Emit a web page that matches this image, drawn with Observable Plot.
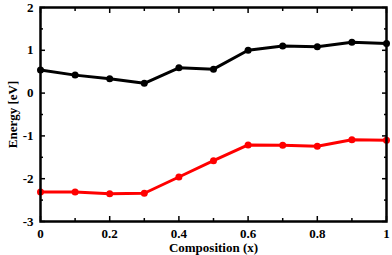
<!DOCTYPE html>
<html>
<head>
<meta charset="utf-8">
<script src="https://cdn.jsdelivr.net/npm/d3@7"></script>
<script src="https://cdn.jsdelivr.net/npm/@observablehq/plot@0.6"></script>
<style>
  html, body { margin: 0; padding: 0; background: #fff; }
  svg { display: block; }
</style>
</head>
<body>
<div id="chart"></div>
<script>
const composition = [0, 0.1, 0.2, 0.3, 0.4, 0.5, 0.6, 0.7, 0.8, 0.9, 1.0];
const upperEnergy = [0.54, 0.42, 0.335, 0.23, 0.59, 0.56, 1.0, 1.10, 1.085, 1.19, 1.16];
const lowerEnergy = [-2.31, -2.31, -2.35, -2.34, -1.96, -1.58, -1.21, -1.22, -1.24, -1.09, -1.10];
const xMajorTicks = [0, 0.2, 0.4, 0.6, 0.8, 1];
const xMinorTicks = [0.1, 0.3, 0.5, 0.7, 0.9];
const yMajorTicks = [-3, -2, -1, 0, 1, 2];
const yMinorTicks = [-2.5, -1.5, -0.5, 0.5, 1.5];

const upper = composition.map((x, i) => ({x, y: upperEnergy[i]}));
const lower = composition.map((x, i) => ({x, y: lowerEnergy[i]}));

const font = "bold 13px 'Liberation Serif', 'DejaVu Serif', serif";

const chart = Plot.plot({
  width: 392,
  height: 255,
  marginLeft: 40,
  marginRight: 6,
  marginTop: 7,
  marginBottom: 34,
  style: {font, background: "#fff", color: "#000"},
  x: {domain: [0, 1]},
  y: {domain: [-3, 2]},
  marks: [
    Plot.axisX(xMajorTicks, {anchor: "bottom", tickSize: 0, tickPadding: 7, tickFormat: d => String(d), label: "Composition (x)", labelAnchor: "center", labelArrow: "none", labelOffset: 30, fontWeight: "bold", fontSize: 13}),
    Plot.axisX(xMajorTicks, {anchor: "bottom", tickSize: -5, text: null, label: null, strokeWidth: 1.5}),
    Plot.axisX(xMinorTicks, {anchor: "bottom", tickSize: -3, text: null, label: null, strokeWidth: 1.5}),
    Plot.axisX(xMajorTicks, {anchor: "top", tickSize: -5, text: null, label: null, strokeWidth: 1.5}),
    Plot.axisX(xMinorTicks, {anchor: "top", tickSize: -3, text: null, label: null, strokeWidth: 1.5}),
    Plot.axisY(yMajorTicks, {anchor: "left", tickSize: 0, tickPadding: 7, tickFormat: d => String(d), label: "Energy [eV]", labelAnchor: "center", labelArrow: "none", labelOffset: 33, fontWeight: "bold", fontSize: 13}),
    Plot.axisY(yMajorTicks, {anchor: "left", tickSize: -5, text: null, label: null, strokeWidth: 1.5}),
    Plot.axisY(yMinorTicks, {anchor: "left", tickSize: -3, text: null, label: null, strokeWidth: 1.5}),
    Plot.axisY(yMajorTicks, {anchor: "right", tickSize: -5, text: null, label: null, strokeWidth: 1.5}),
    Plot.axisY(yMinorTicks, {anchor: "right", tickSize: -3, text: null, label: null, strokeWidth: 1.5}),
    Plot.line(upper, {x: "x", y: "y", stroke: "#000", strokeWidth: 3}),
    Plot.dot(upper, {x: "x", y: "y", fill: "#000", r: 3.5}),
    Plot.line(lower, {x: "x", y: "y", stroke: "#ff0000", strokeWidth: 3}),
    Plot.dot(lower, {x: "x", y: "y", fill: "#ff0000", r: 3.5}),
    Plot.frame({stroke: "#000", strokeWidth: 2.5})
  ]
});
document.getElementById("chart").appendChild(chart);
</script>
</body>
</html>
